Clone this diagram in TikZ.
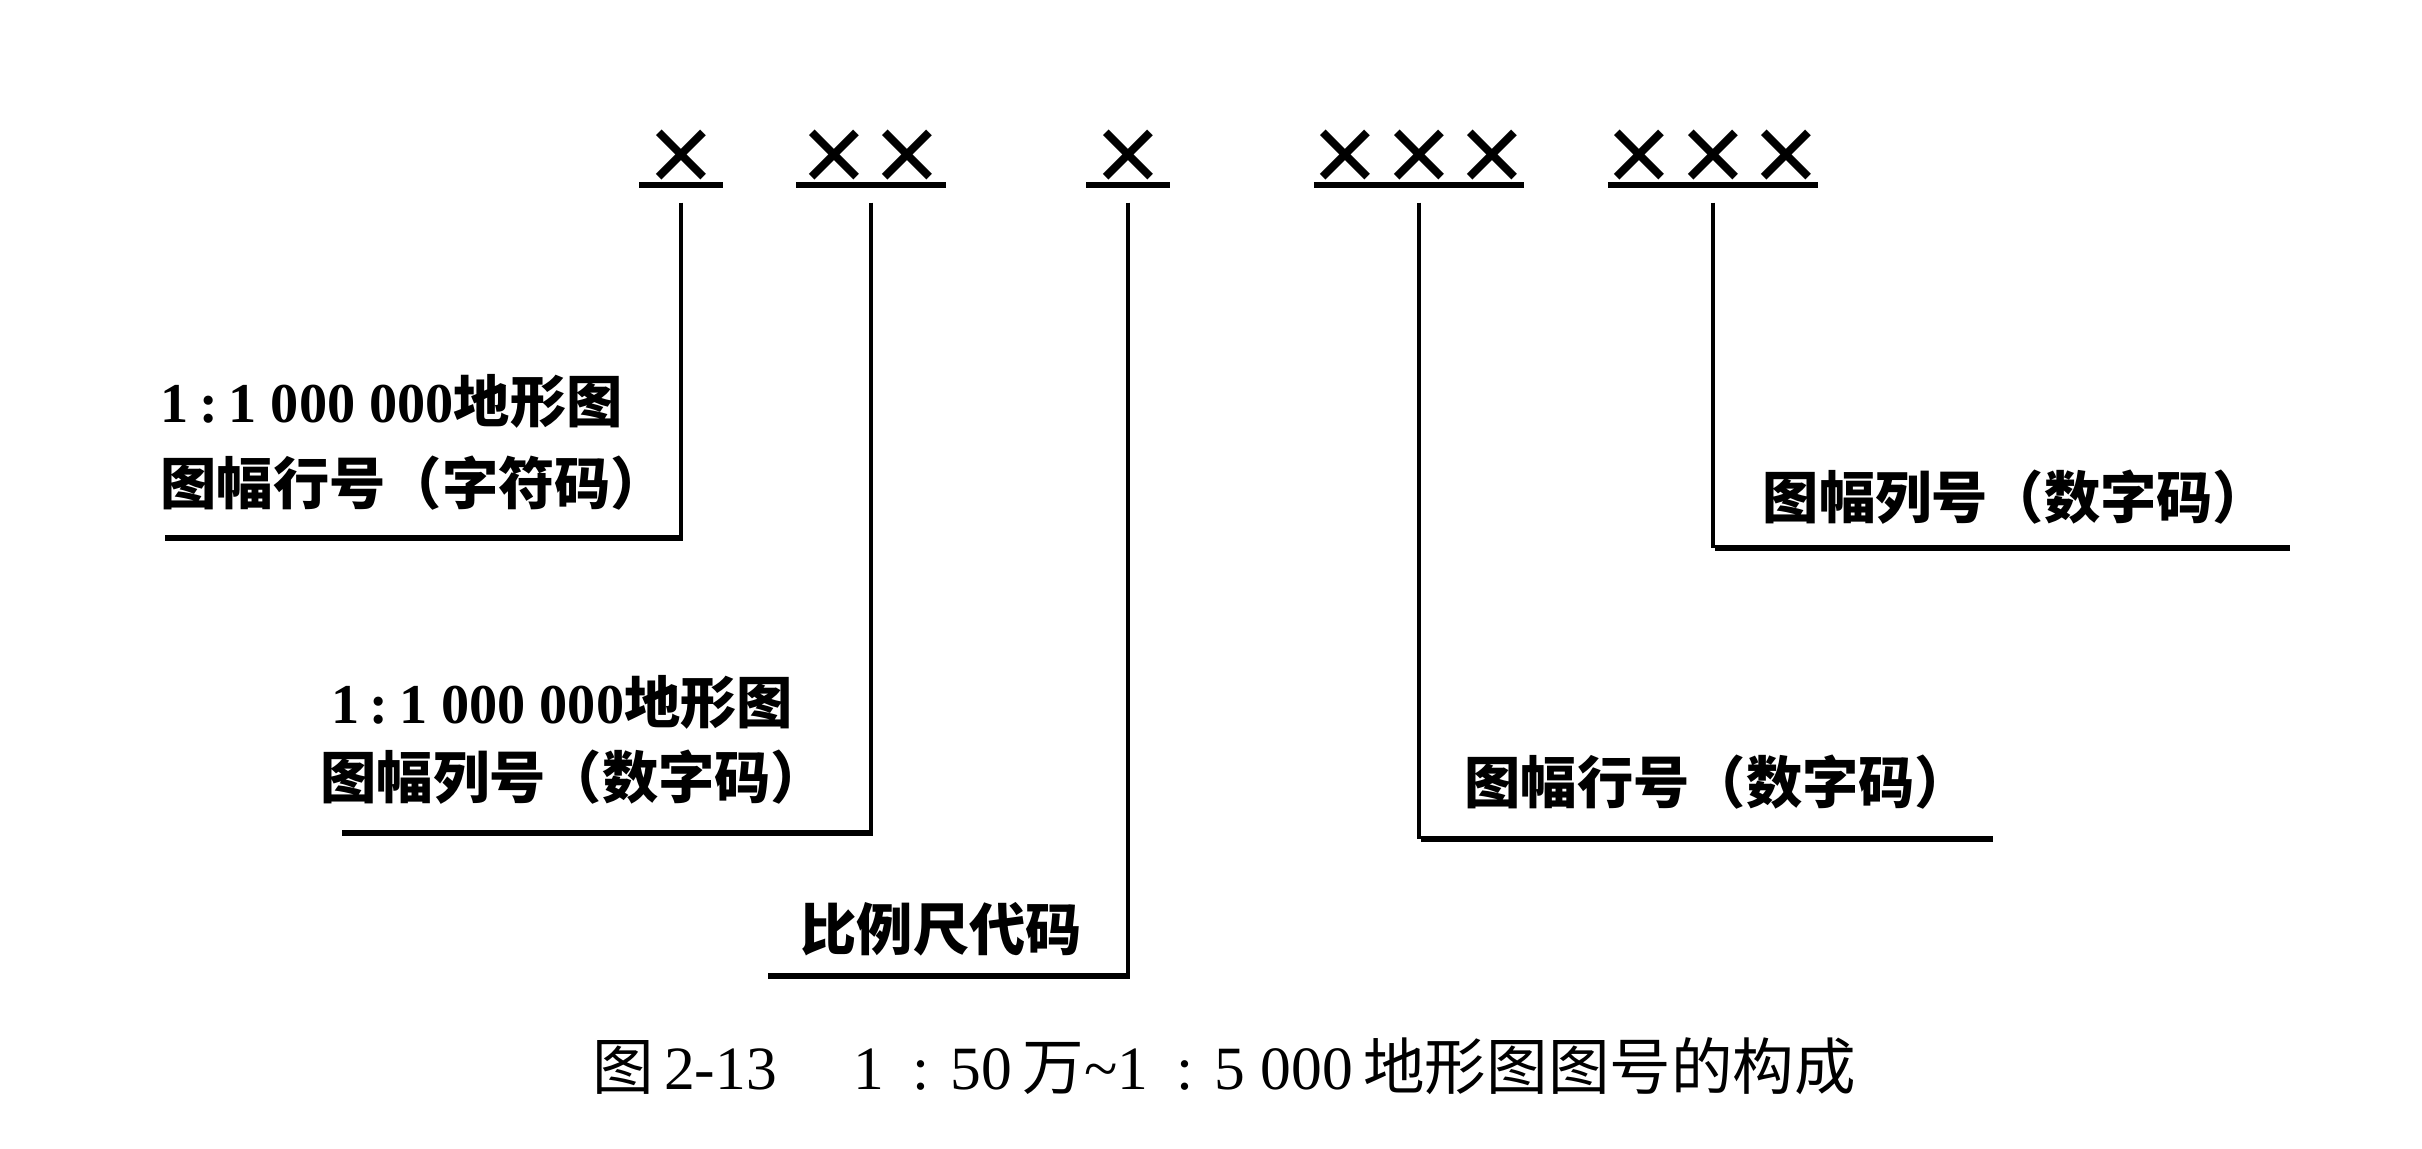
\documentclass[tikz,border=0pt]{standalone}
\usepackage{fontspec}
\setmainfont{Liberation Serif}
\newfontfamily\cjk{Noto Sans CJK SC}
\newfontfamily\crossfont{Liberation Sans}
\usetikzlibrary{positioning}

\tikzset{
  xcode/.style={font=\crossfont\fontsize{32}{32}\selectfont, inner xsep=0pt, inner ysep=-2.3pt, anchor=south},
  notebox/.style={align=left, inner sep=0pt, anchor=west, font=\bfseries\fontsize{16}{23.3}\selectfont},
  uline/.style={line width=1.8pt},
  stemline/.style={line width=0.9pt, shorten <=5pt},
  footline/.style={line width=1.9pt},
}
\newcommand{\gap}{\hspace{2.3pt}}
\newcommand{\ratio}{\hspace{3pt}:\hspace{3pt}}

\begin{document}
\begin{tikzpicture}[x=0.01cm, y=-0.01cm]
\useasboundingbox (0,0) rectangle (2422,1148);

% code groups
\node[xcode] (g1) at (681,185) {×};
\node[xcode] (g2) at (871,185) {×\gap×};
\node[xcode] (g3) at (1128,185) {×};
\node[xcode] (g4) at (1419,185) {×\gap×\gap×};
\node[xcode] (g5) at (1713,185) {×\gap×\gap×};
\foreach \g/\s in {g1/-2.4pt,g2/-1.3pt,g3/-2.4pt,g4/0.6pt,g5/0.6pt}
	\draw [uline, shorten <=\s, shorten >=\s] (\g.south west) to (\g.south east);

% labels
\node[notebox] (n1) at (160,442) {1\ratio 1 000 000{\cjk 地形图}\\{\cjk 图幅行号（字符码）}};
\node[notebox, font=\bfseries\fontsize{16}{21.5}\selectfont] (n2) at (320,740) {\hspace{3pt}1\ratio 1 000 000{\cjk 地形图}\\{\cjk 图幅列号（数字码）}};
\node[notebox] (n3) at (800,929) {\cjk 比例尺代码};
\node[notebox] (n4) at (1464,782) {\cjk 图幅行号（数字码）};
\node[notebox] (n5) at (1762,497) {\cjk 图幅列号（数字码）};

% ends of the foot lines
\coordinate (e1) at (165,538);
\coordinate (e2) at (342,833);
\coordinate (e3) at (768,976);
\coordinate (e4) at (1993,839);
\coordinate (e5) at (2290,548);

\foreach \g/\e in {g1/e1,g2/e2,g3/e3,g4/e4,g5/e5}
	{\draw [stemline] (\g.south) to (\g.south |- \e);
	\draw [footline] ([xshift=0.45pt]\g.south |- \e) to (\e);}

% caption
\node[font=\fontsize{17.5}{20}\selectfont, inner sep=0pt] (cap) at (1224,1066)
	{{\cjk 图}\,2-13\quad\ 1\hspace{8pt}:\hspace{6pt}50\,{\cjk 万}\textasciitilde 1\hspace{8pt}:\hspace{6pt}5 000\,{\cjk 地形图图号的构成}};

\end{tikzpicture}
\end{document}
